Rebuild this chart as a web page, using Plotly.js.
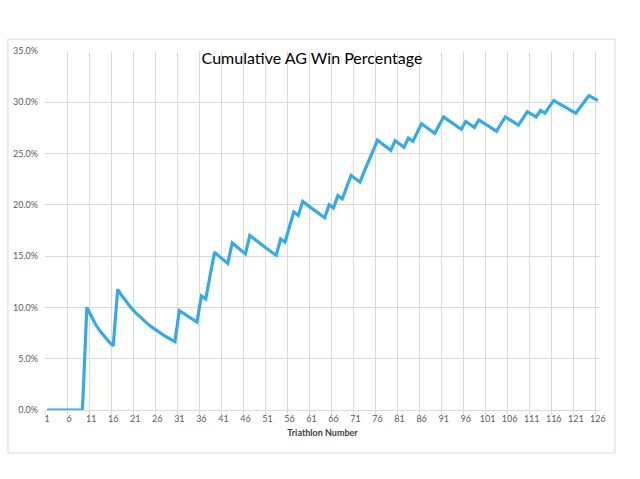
<!DOCTYPE html>
<html>
<head>
<meta charset="utf-8">
<script src="https://cdn.plot.ly/plotly-3.0.1.min.js"></script>
<style>html,body{margin:0;padding:0;background:#fff}#chart{width:640px;height:479px}</style>
</head>
<body>
<div id="chart"></div>
<script>
// Triathlon numbers 1..126
const triathlonNumbers = [
  1,2,3,4,5,6,7,8,9,10,11,12,13,14,15,16,17,18,19,20,
  21,22,23,24,25,26,27,28,29,30,31,32,33,34,35,36,37,38,39,40,
  41,42,43,44,45,46,47,48,49,50,51,52,53,54,55,56,57,58,59,60,
  61,62,63,64,65,66,67,68,69,70,71,72,73,74,75,76,77,78,79,80,
  81,82,83,84,85,86,87,88,89,90,91,92,93,94,95,96,97,98,99,100,
  101,102,103,104,105,106,107,108,109,110,111,112,113,114,115,116,117,118,119,120,
  121,122,123,124,125,126
];
// Cumulative AG win percentage (%)
const winPercentage = [
  0,0,0,0,0,0,0,0,0,10.00,9.09,8.33,7.69,7.14,6.67,6.25,11.76,11.11,10.53,10.00,
  9.52,9.09,8.70,8.33,8.00,7.69,7.41,7.14,6.90,6.67,9.68,9.38,9.09,8.82,8.57,11.11,10.81,13.16,15.38,15.00,
  14.63,14.29,16.28,15.91,15.56,15.22,17.02,16.67,16.33,16.00,15.69,15.38,15.09,16.67,16.36,17.86,19.30,18.97,20.34,20.00,
  19.67,19.35,19.05,18.75,20.00,19.70,20.90,20.59,21.74,22.86,22.54,22.22,23.29,24.32,25.33,26.32,25.97,25.64,25.32,26.25,
  25.93,25.61,26.51,26.19,27.06,27.91,27.59,27.27,26.97,27.78,28.57,28.26,27.96,27.66,27.37,28.13,27.84,27.55,28.28,28.00,
  27.72,27.45,27.18,27.88,28.57,28.30,28.04,27.78,28.44,29.09,28.83,28.57,29.20,28.95,29.57,30.17,29.91,29.66,29.41,29.17,
  28.93,29.51,30.08,30.65,30.40,30.16
];
// X tick labels
const xTickValues = [1,6,11,16,21,26,31,36,41,46,51,56,61,66,71,76,81,86,91,96,101,106,111,116,121,126];
const xTickLabels = ['1','6','11','16','21','26','31','36','41','46','51','56','61','66','71','76','81','86','91','96','101','106','111','116','121','126'];
const yTickValues = [0,5,10,15,20,25,30,35];
const yTickLabels = ['0.0%','5.0%','10.0%','15.0%','20.0%','25.0%','30.0%','35.0%'];

const FONT = 'Lato, "Open Sans", "Liberation Sans", sans-serif';
const GRID = '#d9d9d9';

const trace = {
  x: triathlonNumbers,
  y: winPercentage,
  type: 'scatter',
  mode: 'lines',
  line: {color: '#36a9e6', width: 3.2},
  hoverinfo: 'skip',
  showlegend: false
};

const layout = {
  width: 640,
  height: 479,
  margin: {l: 45, r: 40, t: 51, b: 69},
  paper_bgcolor: '#ffffff',
  plot_bgcolor: '#ffffff',
  font: {family: FONT, color: '#595959', size: 9},
  title: {
    text: 'Cumulative AG Win Percentage',
    font: {family: FONT, size: 16, color: '#000000'},
    xref: 'container', yref: 'container',
    x: 0.4875, y: 0.879, xanchor: 'center', yanchor: 'middle'
  },
  xaxis: {
    range: [0.5, 126.5],
    tickmode: 'array',
    tickvals: xTickValues,
    ticktext: xTickLabels,
    showgrid: false,
    zeroline: false,
    showline: true,
    linecolor: GRID,
    linewidth: 1,
    ticks: '',
    tickfont: {family: FONT, size: 9, color: '#595959'},
    minor: {
      tick0: 0.5,
      dtick: 5,
      showgrid: true,
      gridcolor: GRID,
      gridwidth: 1,
      ticks: 'outside',
      ticklen: 4,
      tickcolor: GRID
    },
    title: {
      text: '<b>Triathlon Number</b>',
      font: {family: FONT, size: 9, color: '#404040'},
      standoff: 6
    }
  },
  yaxis: {
    range: [0, 35],
    tickmode: 'array',
    tickvals: yTickValues,
    ticktext: yTickLabels,
    showgrid: true,
    gridcolor: GRID,
    gridwidth: 1,
    zeroline: false,
    showline: false,
    ticks: '',
    ticklabelstandoff: 6,
    tickfont: {family: FONT, size: 9, color: '#595959'}
  },
  shapes: [{
    type: 'rect', xref: 'paper', yref: 'paper',
    x0: -0.0667, x1: 1.027, y0: -0.1198, y1: 1.0334,
    line: {color: GRID, width: 1}, fillcolor: 'rgba(0,0,0,0)', layer: 'below'
  }]
};

Plotly.newPlot('chart', [trace], layout, {staticPlot: true, displayModeBar: false});
</script>
</body>
</html>
